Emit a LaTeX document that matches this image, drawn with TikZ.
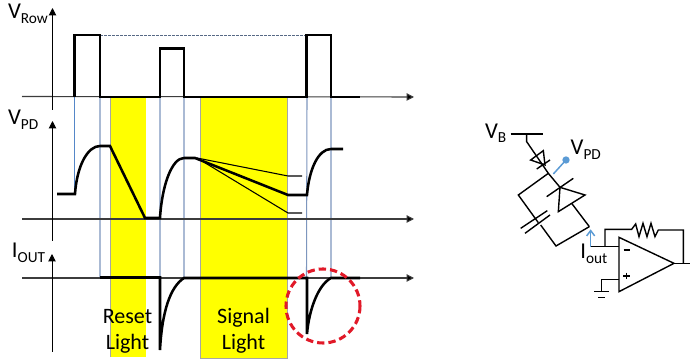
\documentclass[tikz,border=0pt]{standalone}
\usepackage{fontspec}
\setmainfont{Carlito}
\usetikzlibrary{arrows.meta}
\definecolor{guide}{RGB}{125,150,190}
\definecolor{guideb}{RGB}{85,135,200}
\definecolor{dotblue}{RGB}{91,155,213}
\definecolor{axisc}{RGB}{60,60,60}
\definecolor{bandy}{RGB}{255,255,0}
\definecolor{ringred}{RGB}{225,25,40}
\newcommand{\sublbl}[2]{{\fontsize{17}{17}\selectfont #1}\raisebox{-3.5pt}{\fontsize{11.5}{11.5}\selectfont #2}}
\tikzset{
  axisl/.style={draw=axisc,line width=0.8pt,-{Triangle[length=5.5pt,width=5.5pt,fill=black]}},
  axisup/.style={draw=black,line width=0.7pt,-{Triangle[length=5.5pt,width=5.5pt,fill=black]}},
  sig/.style={draw=black,line width=1.9pt,line join=miter},
  thinsig/.style={draw=black,line width=0.8pt},
  guideline/.style={draw=guide,line width=0.8pt},
  lbl/.style={anchor=base west,inner sep=0pt,outer sep=0pt},
  biglbl/.style={anchor=base,inner sep=0pt,outer sep=0pt,font=\fontsize{16.5}{16.5}\selectfont},
  band/.style={fill=bandy,draw=none},
  cir/.style={draw=black,line width=1.05pt,line join=miter},
}
\begin{document}
\begin{tikzpicture}[x=0.75pt,y=-0.75pt]
\useasboundingbox (0,0) rectangle (690,359);
\fill[white] (0,0) rectangle (690,359);
% yellow bands
\fill[band] (110.5,97) rectangle (145.5,357);
\fill[band] (200.5,97) rectangle (287.5,358);
\draw[gray!70,line width=0.5pt] (110.5,97) -- (110.5,357);
\draw[gray!70,line width=0.5pt] (200.5,97) -- (200.5,358) -- (287.5,358) -- (287.5,97);
% guides
\draw[guideb,line width=0.8pt] (74.5,97) -- (74.5,194);
\draw[guideline] (100,97) -- (100,278) (160,97) -- (160,278) (184,97) -- (184,278) (307,97) -- (306.5,278) (331,97) -- (331,278);
% axes
\draw[axisl] (22,96.5) -- (414,97);
\draw[axisl] (22,219) -- (414,219);
\draw[axisl] (22,278) -- (414,278);
\draw[axisup] (52.5,110) -- (52.5,8);
\draw[axisup] (52.5,241) -- (52.5,121);
\draw[axisup] (52,352) -- (52,254);
% top dashed
\draw[guide!70!black,line width=0.5pt,dash pattern=on 2pt off 1pt] (100,35) -- (319,35);
% Row
\draw[sig] (74.5,97) -- (74.5,35) -- (100,35) -- (100,97) -- (160,97) -- (160,48.5) -- (184,48.5) -- (184,97) -- (306.5,97) -- (306.5,35) -- (331,35) -- (331,97) -- (360,97);
% VPD
\draw[sig] (57,194) -- (75,194) .. controls (77,165) and (88,146) .. (100,146) -- (110,146) -- (145,218) -- (160,218) .. controls (162,185) and (172,158) .. (184,158) -- (195,158) -- (288,195) -- (307,195) .. controls (309,170) and (318,149) .. (331,149) -- (343,149);
\draw[thinsig] (197,158) -- (288,176) -- (302,176);
\draw[thinsig] (197,158) -- (288,213) -- (302,213);
% IOUT
\draw[sig] (100,277.5) -- (160,277.5) -- (160,350) .. controls (162,312) and (170,287) .. (184,278) -- (307,278) -- (307,334) .. controls (309,310) and (318,285) .. (331,278) -- (360,278);
% labels
\node[lbl] (vrow) at (8,19) {\sublbl{V}{Row}};
\node[lbl] (vpd) at (8,125) {\sublbl{V}{PD}};
\node[lbl] (iout) at (12,258) {\sublbl{I}{OUT}};
\node[biglbl] (reset) at (127.5,323.5) {Reset};
\node[biglbl] (lighta) at (127.5,349.5) {Light};
\node[biglbl] (signal) at (243.5,323.5) {Signal};
\node[biglbl] (lightb) at (243.5,349.5) {Light};
% red circle
\draw[ringred,line width=2.3pt,dash pattern=on 5.5pt off 3pt] (323,306) circle[radius=37];
% circuit
\begin{scope}[shift={(470,110)},x=0.25pt,y=-0.25pt]
\draw[cir] (122,72) -- (218,72);
\draw[cir] (170,72) -- (170,95) -- (235,190) -- (270,232);
\draw[cir] (220,122) -- (182,150) -- (225,165) -- cycle;
\draw[cir] (200,177) -- (240,150);
\draw[cir] (235,190) -- (145,255) -- (205,338);
\draw[cir] (152,355) -- (232,302);
\draw[cir] (165,370) -- (240,315);
\draw[cir] (212,345) -- (258,408) -- (358,350);
\draw[cir] (230,260) -- (310,205);
\draw[cir] (270,232) -- (345,255) -- (265,305) -- cycle;
\draw[cir] (305,280) -- (358,350);
\draw[dotblue,line width=1.1pt] (250,192) -- (288,150);
\fill[dotblue] (288,150) circle[radius=11];
\draw[cir] (362,410) -- (447,410);
\draw[dotblue,line width=1.1pt,-{Straight Barb[length=4pt,width=6pt]}] (362,410) -- (362,358);
\draw[cir] (405,410) -- (405,358) -- (485,358) -- (497,342) -- (507,380) -- (519,340) -- (531,380) -- (543,340) -- (555,380) -- (565,360) -- (640,360) -- (640,460);
\draw[cir] (447,382) -- (612,460) -- (447,545) -- cycle;
\draw[cir] (612,460) -- (660,460);
\draw[cir] (447,508) -- (395,508) -- (395,545);
\draw[cir] (372,545) -- (418,545);
\draw[cir] (385,563) -- (405,563);
\draw[black,line width=0.95pt] (461,420) -- (481,420);
\draw[black,line width=0.95pt] (460,498) -- (480,498) (470,488) -- (470,508);
\node[lbl] (vb) at (45,85) {\sublbl{V}{B}};
\node[lbl] (vpdc) at (302,135) {\sublbl{V}{PD}};
\node[lbl] (ioutc) at (331,447) {\sublbl{I}{out}};
\end{scope}
\end{tikzpicture}
\end{document}
